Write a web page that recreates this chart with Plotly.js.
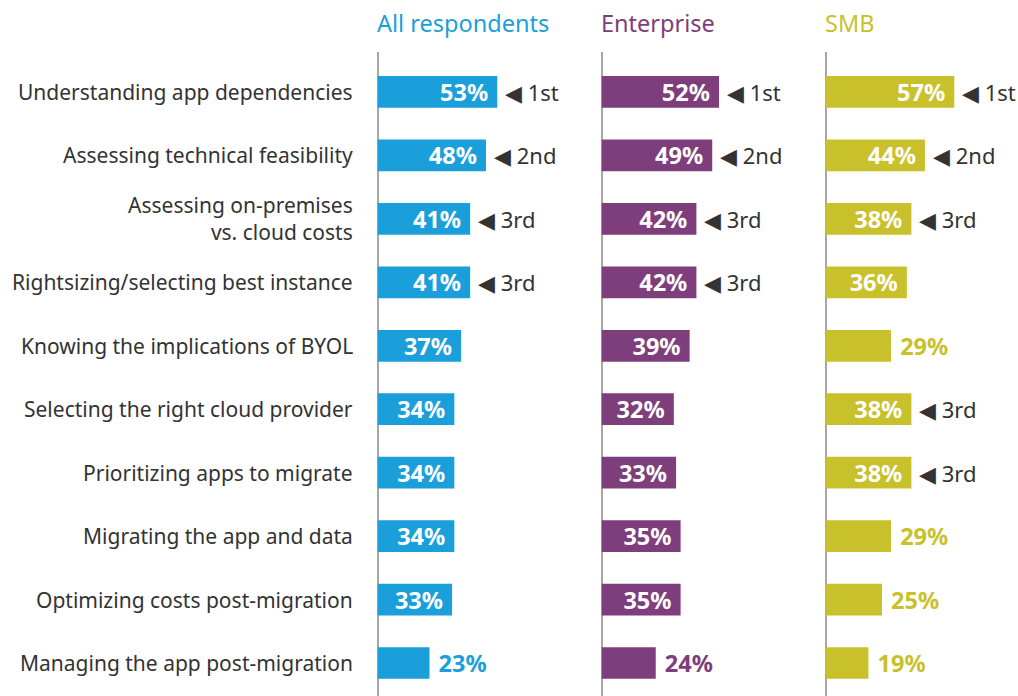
<!DOCTYPE html>
<html><head><meta charset="utf-8">
<script src="https://cdn.plot.ly/plotly-3.0.1.min.js"></script>
<style>html,body{margin:0;padding:0;background:#fff}#chart{width:1018px;height:696px}</style>
</head><body><div id="chart"></div>
<script>
const categories = [
  "Understanding app dependencies",
  "Assessing technical feasibility",
  "Assessing on-premises<br>vs. cloud costs",
  "Rightsizing/selecting best instance",
  "Knowing the implications of BYOL",
  "Selecting the right cloud provider",
  "Prioritizing apps to migrate",
  "Migrating the app and data",
  "Optimizing costs post-migration",
  "Managing the app post-migration"
];
const seriesNames = ["All respondents", "Enterprise", "SMB"];
const allValues = [53, 48, 41, 41, 37, 34, 34, 34, 33, 23];
const entValues = [52, 49, 42, 42, 39, 32, 33, 35, 35, 24];
const smbValues = [57, 44, 38, 36, 29, 38, 38, 29, 25, 19];
const allRanks = ["1st", "2nd", "3rd", "3rd", "", "", "", "", "", ""];
const entRanks = ["1st", "2nd", "3rd", "3rd", "", "", "", "", "", ""];
const smbRanks = ["1st", "2nd", "3rd", "", "", "3rd", "3rd", "", "", ""];
const colors = ["#1a9fdb", "#7e3e7b", "#c9c12c"];

const W = 1018;
const FONT = "Noto Sans";
const pxPerPct = 2.26;
const panels = [
  {values: allValues, ranks: allRanks, x0: 377.5, x1: 600.5, ax: "x"},
  {values: entValues, ranks: entRanks, x0: 601.5, x1: 824.5, ax: "x2"},
  {values: smbValues, ranks: smbRanks, x0: 825.5, x1: 1018, ax: "x3"}
];

const traces = [];
const annotations = [];
const layout = {
  width: 1018, height: 696,
  margin: {l: 0, r: 0, t: 52, b: 0},
  paper_bgcolor: "#fff", plot_bgcolor: "#fff",
  showlegend: false,
  bargap: 0.5,
  font: {family: FONT, color: "#333"},
  yaxis: {
    type: "category", range: [9.52, -0.63], autorange: false,
    showticklabels: false, showgrid: false, zeroline: false, showline: false, ticks: ""
  }
};

panels.forEach((p, k) => {
  const axName = k === 0 ? "xaxis" : "xaxis" + (k + 1);
  layout[axName] = {
    domain: [p.x0 / W, p.x1 / W],
    range: [0, (p.x1 - p.x0) / pxPerPct], autorange: false,
    showticklabels: false, showgrid: false, ticks: "",
    zeroline: true, zerolinecolor: "#a6a6a6", zerolinewidth: 2,
    showline: false, anchor: "y"
  };
  const inside = p.values.map(v => v >= 30);
  traces.push({
    type: "bar", orientation: "h",
    x: p.values, y: categories,
    xaxis: p.ax, yaxis: "y",
    marker: {color: colors[k]},
    width: 0.5,
    text: p.values.map((v, i) => inside[i] ? v + "%\u00a0" : "\u00a0" + v + "%"),
    textposition: p.values.map((v, i) => inside[i] ? "inside" : "outside"),
    insidetextanchor: "end",
    insidetextfont: {family: FONT, size: 23.5, color: "#ffffff", weight: 700},
    outsidetextfont: {family: FONT, size: 23.5, color: colors[k], weight: 700},
    constraintext: "none", cliponaxis: false,
    hoverinfo: "skip"
  });
  // header
  annotations.push({
    xref: "paper", yref: "paper",
    x: p.x0 / W, y: 1 + 29 / 644, xanchor: "left", yanchor: "middle", xshift: -3,
    text: seriesNames[k], showarrow: false,
    font: {family: FONT, size: 23.5, color: colors[k]}
  });
  // rank markers
  p.ranks.forEach((r, i) => {
    if (!r) return;
    annotations.push({
      xref: p.ax, yref: "y", x: p.values[i], y: categories[i],
      xanchor: "left", yanchor: "middle", xshift: 6,
      text: "◀ " + r, showarrow: false,
      font: {family: FONT, size: 22, color: "#333"}
    });
  });
});

categories.forEach((c, i) => {
  annotations.push({
    xref: "paper", yref: "y", x: 355 / W, y: c,
    xanchor: "right", yanchor: "middle", align: "right",
    text: c, showarrow: false,
    font: {family: FONT, size: 21, color: "#333"}
  });
});
layout.annotations = annotations;

Plotly.newPlot("chart", traces, layout, {displayModeBar: false, staticPlot: true});
</script></body></html>
